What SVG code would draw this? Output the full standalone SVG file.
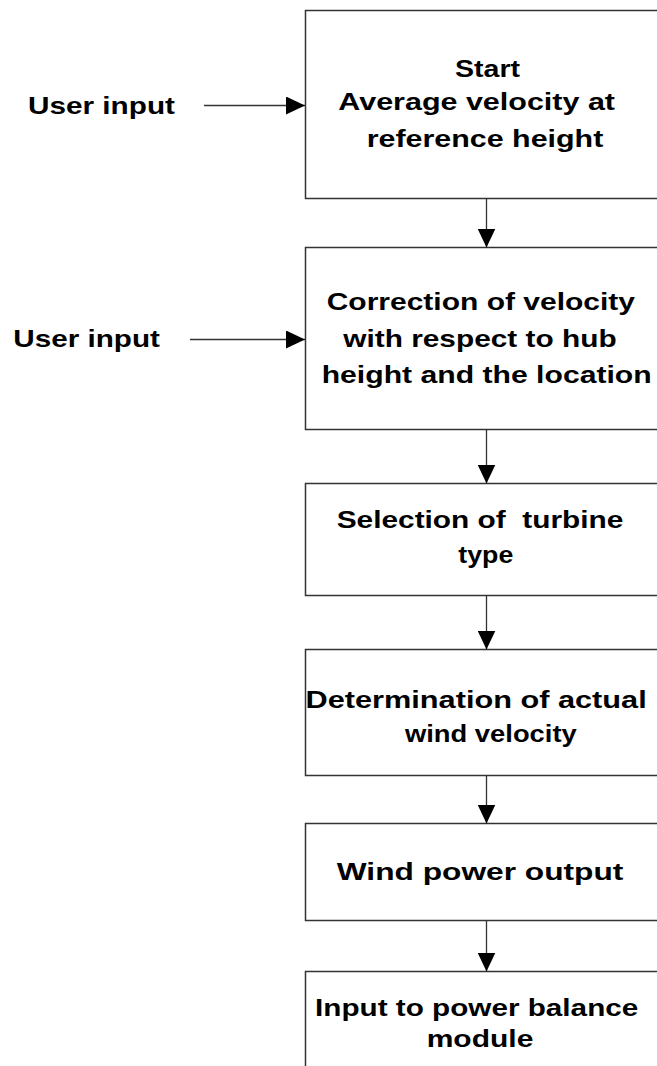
<svg xmlns="http://www.w3.org/2000/svg" width="657" height="1066" viewBox="0 0 657 1066">
  <style>
    .box { fill: #ffffff; stroke: #333333; stroke-width: 1.5; }
    .link { fill: none; stroke: #333333; stroke-width: 1.3; }
    .lbl { font-family: "Liberation Sans", Arial, sans-serif; font-weight: bold; font-size: 24px; fill: #000000; }
  </style>
  <defs>
    <marker id="head" viewBox="0 0 19 18" markerWidth="19" markerHeight="18" refX="19" refY="9" orient="auto" markerUnits="userSpaceOnUse">
      <path d="M0,0 L19,9 L0,18 Z" fill="#000000"/>
    </marker>
  </defs>
  <rect width="657" height="1066" fill="#ffffff"/>

  <!-- process steps -->
  <g id="step-start">
    <rect class="box" x="305.5" y="10.5" width="364" height="188"/>
    <text class="lbl" x="455" y="77" textLength="65" lengthAdjust="spacingAndGlyphs">Start</text>
    <text class="lbl" x="338.3" y="110" textLength="276.7" lengthAdjust="spacingAndGlyphs">Average velocity at</text>
    <text class="lbl" x="366.7" y="147" textLength="236.6" lengthAdjust="spacingAndGlyphs">reference height</text>
  </g>
  <g id="step-correction">
    <rect class="box" x="305.5" y="247.5" width="364" height="182"/>
    <text class="lbl" x="326.7" y="310" textLength="308.3" lengthAdjust="spacingAndGlyphs">Correction of velocity</text>
    <text class="lbl" x="343.3" y="346.7" textLength="273.3" lengthAdjust="spacingAndGlyphs">with respect to hub</text>
    <text class="lbl" x="321.7" y="383" textLength="330" lengthAdjust="spacingAndGlyphs">height and the location</text>
  </g>
  <g id="step-turbine">
    <rect class="box" x="305.5" y="483.5" width="364" height="112"/>
    <text class="lbl" x="336.7" y="528" textLength="286.7" lengthAdjust="spacingAndGlyphs" xml:space="preserve">Selection of  turbine</text>
    <text class="lbl" x="458.3" y="563" textLength="55" lengthAdjust="spacingAndGlyphs">type</text>
  </g>
  <g id="step-actual">
    <rect class="box" x="305.5" y="649.5" width="364" height="126"/>
    <text class="lbl" x="305.5" y="708" textLength="341.2" lengthAdjust="spacingAndGlyphs">Determination of actual</text>
    <text class="lbl" x="405" y="741.7" textLength="171.7" lengthAdjust="spacingAndGlyphs">wind velocity</text>
  </g>
  <g id="step-output">
    <rect class="box" x="305.5" y="823.5" width="364" height="97"/>
    <text class="lbl" x="336.7" y="880" textLength="286.7" lengthAdjust="spacingAndGlyphs">Wind power output</text>
  </g>
  <g id="step-balance">
    <rect class="box" x="305.5" y="971.5" width="364" height="120"/>
    <text class="lbl" x="315" y="1016" textLength="323.3" lengthAdjust="spacingAndGlyphs">Input to power balance</text>
    <text class="lbl" x="426.7" y="1047" textLength="106.7" lengthAdjust="spacingAndGlyphs">module</text>
  </g>

  <!-- external inputs -->
  <g id="input-1">
    <text class="lbl" x="28" y="114" textLength="147" lengthAdjust="spacingAndGlyphs">User input</text>
  </g>
  <g id="input-2">
    <text class="lbl" x="13.3" y="346.7" textLength="146.7" lengthAdjust="spacingAndGlyphs">User input</text>
  </g>

  <!-- connectors -->
  <g id="connectors">
    <line class="link" x1="204" y1="105.5" x2="305" y2="105.5" marker-end="url(#head)"/>
    <line class="link" x1="190" y1="339.5" x2="305" y2="339.5" marker-end="url(#head)"/>
    <line class="link" x1="486.5" y1="198.5" x2="486.5" y2="247.5" marker-end="url(#head)"/>
    <line class="link" x1="486.5" y1="429.5" x2="486.5" y2="483.5" marker-end="url(#head)"/>
    <line class="link" x1="486.5" y1="595.5" x2="486.5" y2="649.5" marker-end="url(#head)"/>
    <line class="link" x1="486.5" y1="775.5" x2="486.5" y2="823.5" marker-end="url(#head)"/>
    <line class="link" x1="486.5" y1="920.5" x2="486.5" y2="971.5" marker-end="url(#head)"/>
  </g>
</svg>
